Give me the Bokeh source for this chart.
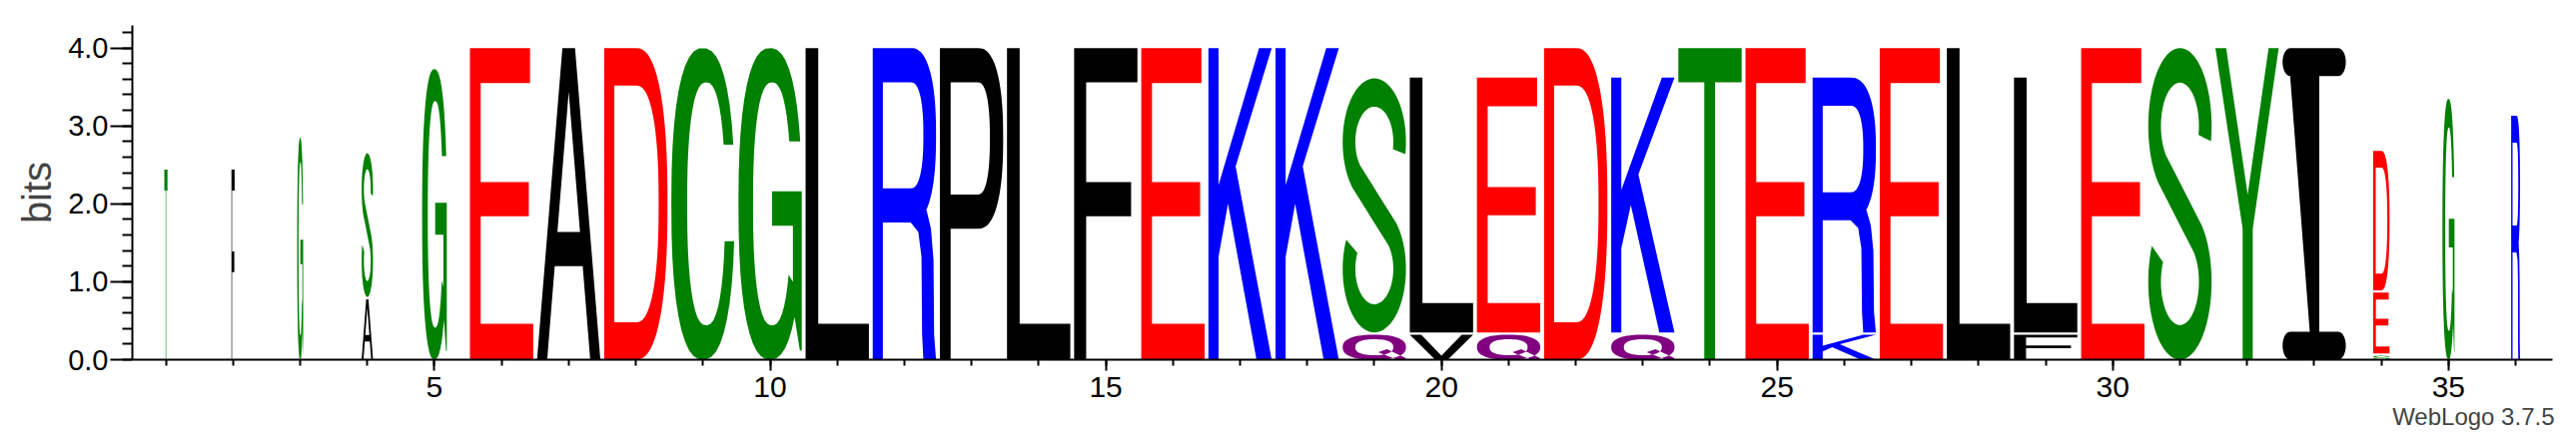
import numpy as np
from bokeh.plotting import figure
from bokeh.models import Range1d, FixedTicker, PrintfTickFormatter, Title
from bokeh.embed import file_html
from bokeh.resources import INLINE

# sequence logo data (letters bottom -> top)
positions = list(range(1, 37))
stack_letters = ["T", "F", "G", "AS", "G", "E", "A", "D", "C", "G", "L", "R",
                 "P", "L", "F", "E", "K", "K", "QS", "VL", "QE", "D", "QK", "T",
                 "E", "KR", "E", "L", "FL", "E", "S", "Y", "I", "SED", "G", "R"]
stack_heights = [[2.44], [2.44], [2.85], [0.79, 1.86], [3.73], [4.0], [4.0], [4.0],
                 [4.0], [4.0], [4.0], [4.0], [4.0], [4.0], [4.0], [4.0], [4.0], [4.0],
                 [0.335, 3.275], [0.335, 3.285], [0.335, 3.285], [4.0], [0.335, 3.285],
                 [4.0], [4.0], [0.335, 3.285], [4.0], [4.0], [0.335, 3.285], [4.0],
                 [4.0], [4.0], [4.0], [0.065, 0.81, 1.805], [3.35], [3.13]]
# fraction of sequences present at each column (stack width)
stack_weights = [0.05, 0.05, 0.095, 0.18, 0.39] + [1.0] * 28 + [0.26, 0.19, 0.14]

y_ticks = [0, 1, 2, 3, 4]
y_minor = [round(0.2 * i, 1) for i in range(22)]
x_ticks = [5, 10, 15, 20, 25, 30, 35]

GREEN, RED, BLUE, PURPLE, BLACK = "#008000", "#ff0000", "#0000ff", "#800080", "#000000"
colours = {"G": GREEN, "S": GREEN, "T": GREEN, "Y": GREEN, "C": GREEN,
           "N": PURPLE, "Q": PURPLE, "K": BLUE, "R": BLUE, "H": BLUE,
           "D": RED, "E": RED}


# ---- letter outlines in a unit box ----
def sup(cx, cy, rx, ry, t0, t1, n=40, e=2.4):
    t = np.linspace(t0, t1, n)
    c, s = np.cos(t), np.sin(t)
    x = cx + rx * np.sign(c) * np.abs(c) ** (2 / e)
    y = cy + ry * np.sign(s) * np.abs(s) ** (2 / e)
    return list(zip(x, y))


def t_at(cy, ry, y, e=2.4):
    s = (y - cy) / ry
    return np.sign(s) * np.arcsin(np.abs(s) ** (e / 2))


def shape_C():
    ring = (sup(.5, .5, .5, .5, t_at(.5, .5, .69), 2 * np.pi + t_at(.5, .5, .38))
            + sup(.55, .5, .3, .39, 2 * np.pi + t_at(.5, .39, .38), t_at(.5, .39, .69)))
    return [[ring]]


def shape_G():
    ring = (sup(.5, .5, .5, .5, t_at(.5, .5, .70), 2 * np.pi - 0.75)
            + [(.97, .03), (1, .03), (1, .54), (.53, .54), (.53, .43), (.86, .43), (.86, .25)]
            + sup(.53, .5, .3, .39, 2 * np.pi - 0.55, t_at(.5, .39, .70)))
    return [[ring]]


def shape_S():
    H = 1.8
    a = np.linspace(-0.2, 3.927, 50)
    top = np.c_[.5 + .4 * np.cos(a), 1.35 + .35 * np.sin(a)]
    b = np.linspace(0.785, -3.617, 50)
    bot = np.c_[.5 + .4 * np.cos(b), .45 + .35 * np.sin(b)]
    f = np.linspace(0, 1, 7)[1:-1, None]
    spine = top[-1] + f * (bot[0] - top[-1])
    c = np.vstack([top, spine, bot])
    d = np.gradient(c, axis=0)
    d /= np.linalg.norm(d, axis=1)[:, None]
    nrm = np.c_[-d[:, 1], d[:, 0]]
    pts = np.vstack([c + 0.1 * nrm, (c - 0.1 * nrm)[::-1]])
    return [[list(zip(pts[:, 0], pts[:, 1] / H))]]


def shape_D():
    outer = [(0, 1), (0, 0)] + sup(.5, .5, .5, .5, -np.pi / 2, np.pi / 2)
    inner = [(.16, .88), (.16, .12)] + sup(.5, .5, .36, .38, -np.pi / 2, np.pi / 2)
    return [[outer, inner]]


def shape_P():
    outer = [(0, 0), (.17, 0), (.17, .42), (.6, .42)] + sup(.6, .71, .4, .29, -np.pi / 2, np.pi / 2) + [(0, 1)]
    inner = [(.17, .53), (.6, .53)] + sup(.6, .71, .19, .18, -np.pi / 2, np.pi / 2) + [(.17, .89)]
    return [[outer, inner]]


def shape_R():
    outer = ([(0, 0), (.16, 0), (.16, .44), (.6, .44), (.72, .41), (.77, .33), (.78, .08),
              (.8, 0), (1, 0), (.97, .08), (.96, .32), (.92, .42), (.85, .48)]
             + sup(.6, .72, .4, .28, -1.0, np.pi / 2) + [(0, 1)])
    inner = [(.16, .55), (.6, .55)] + sup(.6, .72, .2, .17, -np.pi / 2, np.pi / 2) + [(.16, .89)]
    return [[outer, inner]]


def shape_Q():
    outer = sup(.5, .5, .5, .5, 0, 2 * np.pi, 60)
    inner = sup(.5, .5, .3, .32, 0, 2 * np.pi, 60)
    tail = [(.56, .3), (.7, .42), (1, .06), (.98, 0), (.86, 0)]
    return [[outer, inner], [tail]]


def shape_I():
    ring = ([(.43, .09), (.12, .09)] + sup(.12, .045, .12, .045, np.pi / 2, 3 * np.pi / 2, 12, 2)
            + [(.88, 0)] + sup(.88, .045, .12, .045, -np.pi / 2, np.pi / 2, 12, 2)
            + [(.58, .09), (.58, .91), (.88, .91)] + sup(.88, .955, .12, .045, -np.pi / 2, np.pi / 2, 12, 2)
            + [(.12, 1)] + sup(.12, .955, .12, .045, np.pi / 2, 3 * np.pi / 2, 12, 2))
    return [[ring]]


def poly(pts):
    return lambda: [[pts]]


SHAPES = {
    "C": shape_C, "G": shape_G, "S": shape_S, "D": shape_D, "P": shape_P,
    "R": shape_R, "Q": shape_Q, "I": shape_I,
    "E": poly([(0, 0), (1, 0), (1, .115), (.17, .115), (.17, .46), (.93, .46), (.93, .57),
               (.17, .57), (.17, .888), (.95, .888), (.95, 1), (0, 1)]),
    "F": poly([(0, 0), (.19, 0), (.19, .46), (.9, .46), (.9, .57), (.19, .57), (.19, .89),
               (1, .89), (1, 1), (0, 1)]),
    "L": poly([(0, 0), (1, 0), (1, .115), (.2, .115), (.2, 1), (0, 1)]),
    "T": poly([(.41, 0), (.58, 0), (.58, .89), (1, .89), (1, 1), (0, 1), (0, .89), (.41, .89)]),
    "K": poly([(0, 0), (.16, 0), (.16, .33), (.31, .5), (.76, 0), (1, 0), (.43, .62), (1, 1),
               (.8, 1), (.16, .56), (.16, 1), (0, 1)]),
    "V": poly([(.4, 0), (.6, 0), (1, 1), (.82, 1), (.5, .16), (.18, 1), (0, 1)]),
    "Y": poly([(.43, 0), (.59, 0), (.59, .42), (1, 1), (.84, 1), (.51, .53), (.17, 1), (0, 1), (.43, .42)]),
    "A": lambda: [[[(0, 0), (.16, 0), (.279, .3), (.721, .3), (.84, 0), (1, 0), (.6, 1), (.4, 1)],
                   [(.322, .41), (.678, .41), (.5, .86)]]],
}

# ---- build the letter glyphs from the data ----
xs, ys, fills = [], [], []
for pos, letters, heights, weight in zip(positions, stack_letters, stack_heights, stack_weights):
    w = 0.943 * weight
    base = 0.0
    n = len(letters)
    for k, (ch, h) in enumerate(zip(letters, heights)):
        lo = base + (0.015 if k > 0 else 0.0)
        hi = base + h - (0.015 if k < n - 1 else 0.0)
        lx, ly = [], []
        for pg in SHAPES[ch]():
            lx.append([pos - w / 2 + np.array([q[0] for q in ring]) * w for ring in pg])
            ly.append([lo + np.array([q[1] for q in ring]) * (hi - lo) for ring in pg])
        xs.append(lx)
        ys.append(ly)
        fills.append(colours.get(ch, BLACK))
        base += h

p = figure(width=2579, height=444, x_range=Range1d(0.5, 36.55), y_range=Range1d(0, 4.29),
           output_backend="svg", toolbar_location=None,
           min_border_left=132, min_border_right=24, min_border_top=25, min_border_bottom=84)
p.grid.visible = False
p.outline_line_color = None

p.multi_polygons(xs=xs, ys=ys, fill_color=fills, line_color=None)

FONT = "Liberation Sans"
for ax in (p.xaxis[0], p.yaxis[0]):
    ax.axis_line_width = 2
    ax.major_tick_line_width = 2
    ax.minor_tick_line_width = 2
    ax.major_tick_in = 0
    ax.minor_tick_in = 0
    ax.major_label_text_font = FONT
    ax.major_label_text_color = "black"
    ax.axis_line_color = "black"

p.xaxis.ticker = FixedTicker(ticks=x_ticks, minor_ticks=positions)
p.xaxis.major_tick_out = 11
p.xaxis.minor_tick_out = 6
p.xaxis.major_label_text_font_size = "30px"
p.xaxis.major_label_standoff = 6

p.yaxis.ticker = FixedTicker(ticks=y_ticks, minor_ticks=y_minor)
p.yaxis.formatter = PrintfTickFormatter(format="%.1f")
p.yaxis.major_tick_out = 22
p.yaxis.minor_tick_out = 10
p.yaxis.major_label_text_font_size = "29px"
p.yaxis.major_label_standoff = 2
p.yaxis.axis_label = "bits"
p.yaxis.axis_label_text_font = FONT
p.yaxis.axis_label_text_font_size = "40px"
p.yaxis.axis_label_text_font_style = "normal"
p.yaxis.axis_label_standoff = 6

credit = Title(text="WebLogo 3.7.5", align="right", text_font=FONT, text_font_size="24px",
               text_font_style="normal", standoff=2, offset=-2)
p.add_layout(credit, "below")

open("out.html", "w").write(file_html(p, INLINE))
